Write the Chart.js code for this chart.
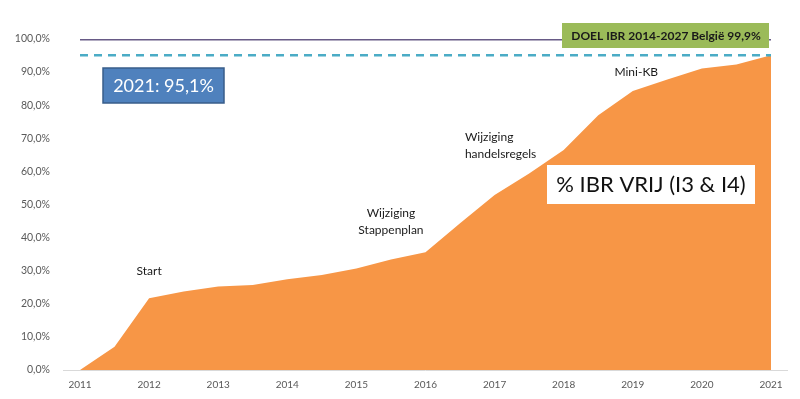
<!DOCTYPE html>
<html>
<head>
<meta charset="utf-8">
<script src="https://cdn.jsdelivr.net/npm/chart.js@4.4.0/dist/chart.umd.min.js"></script>
<style>
html, body { margin: 0; padding: 0; background: #fff; }
#wrap { width: 800px; height: 399px; }
</style>
</head>
<body>
<div id="wrap"><canvas id="grafiek"></canvas></div>
<script>
// halfjaarlijkse meetpunten
const periodes = [2011, 2011.5, 2012, 2012.5, 2013, 2013.5, 2014, 2014.5, 2015, 2015.5, 2016,
                  2016.5, 2017, 2017.5, 2018, 2018.5, 2019, 2019.5, 2020, 2020.5, 2021];
const ibrVrij = [0, 7.0, 21.7, 23.7, 25.2, 25.7, 27.4, 28.7, 30.7, 33.4, 35.6,
                 44.3, 52.9, 59.4, 66.5, 77.0, 84.3, 87.8, 91.1, 92.3, 95.1];
const jaren = [2011, 2012, 2013, 2014, 2015, 2016, 2017, 2018, 2019, 2020, 2021];
const yTicks = [0, 10, 20, 30, 40, 50, 60, 70, 80, 90, 100];
const doel = 99.9;
const huidig = 95.1;

// tekstjes bij de curve: [tekst regels, jaar, waarde, uitlijning]
const notities = [
    [['Start'], 2012, 29.9, 'center'],
    [['Wijziging', 'Stappenplan'], 2015.5, 47.4, 'center'],
    [['Wijziging', 'handelsregels'], 2016.57, 70.4, 'left'],
    [['Mini-KB'], 2019.05, 90.0, 'center']
];

const tekstPlugin = {
    id: 'tekstPlugin',
    beforeDraw(chart) {
        // x-as lijn iets breder dan het plotgebied
        const c = chart.ctx, a = chart.chartArea, y0 = chart.scales.y.getPixelForValue(0);
        c.save();
        c.strokeStyle = '#d9d9d9';
        c.lineWidth = 1;
        c.beginPath();
        c.moveTo(a.left - 17, y0 + 0.5);
        c.lineTo(a.right + 17, y0 + 0.5);
        c.stroke();
        c.restore();
    },
    afterDatasetsDraw(chart) {
        const c = chart.ctx, a = chart.chartArea;
        const sx = chart.scales.x, sy = chart.scales.y;
        c.save();

        // notities
        c.fillStyle = '#1a1a1a';
        c.font = '12px Lato';
        c.textBaseline = 'middle';
        notities.forEach(function (n) {
            c.textAlign = n[3];
            const px = sx.getPixelForValue(n[1]);
            const py = sy.getPixelForValue(n[2]);
            n[0].forEach(function (r, i) { c.fillText(r, px, py + i * 17); });
        });

        // groene doel-box
        c.fillStyle = '#9bbb59';
        c.fillRect(a.right - 209, 23, 207, 25);
        c.fillStyle = '#1a1a1a';
        c.font = 'bold 12px Lato';
        c.textAlign = 'center';
        c.fillText('DOEL IBR 2014-2027 België ' + String(doel).replace('.', ',') + '%', a.right - 105, 36);

        // blauwe box
        c.fillStyle = '#4f81bd';
        c.fillRect(a.left + 23, 68, 121, 35);
        c.strokeStyle = '#385d8a';
        c.lineWidth = 1.5;
        c.strokeRect(a.left + 23, 68, 121, 35);
        c.fillStyle = '#ffffff';
        c.font = '18px Lato';
        c.fillText('2021: ' + String(huidig).replace('.', ',') + '%', a.left + 83.5, 86);

        // witte titel-box
        c.fillStyle = '#ffffff';
        c.fillRect(547, 165, 208, 39);
        c.fillStyle = '#111111';
        c.font = '22px Lato';
        c.fillText('% IBR VRIJ (I3 & I4)', 651, 185);

        c.restore();
    }
};

const ctx = document.getElementById('grafiek').getContext('2d');

var chart = new Chart(ctx, {
    type: 'line',
    data: {
        datasets: [{
            label: 'Doel',
            data: [{ x: periodes[0], y: doel }, { x: periodes[periodes.length - 1], y: doel }],
            borderColor: '#675a86',
            borderWidth: 2.5,
            pointRadius: 0,
            fill: false
        },
        {
            label: '2021',
            data: [{ x: periodes[0], y: huidig }, { x: periodes[periodes.length - 1], y: huidig }],
            borderColor: '#4bacc6',
            borderWidth: 2.5,
            borderDash: [8, 6],
            pointRadius: 0,
            fill: false
        },
        {
            label: '% IBR VRIJ',
            data: periodes.map(function (p, i) { return { x: p, y: ibrVrij[i] }; }),
            backgroundColor: '#f79646',
            borderWidth: 0,
            pointRadius: 0,
            tension: 0,
            fill: 'origin'
        }]
    },
    options: {
        animation: false,
        responsive: true,
        maintainAspectRatio: false,
        layout: { padding: { top: 39, right: 29, left: 0, bottom: 0 } },
        scales: {
            x: {
                type: 'linear',
                min: jaren[0],
                max: jaren[jaren.length - 1],
                afterFit: function (s) { s.height = 29; },
                afterBuildTicks: function (s) { s.ticks = jaren.map(function (j) { return { value: j }; }); },
                grid: { display: false, drawTicks: false },
                border: { display: false },
                ticks: {
                    padding: 9,
                    color: '#595959',
                    font: { family: 'Lato', size: 10 },
                    maxRotation: 0,
                    callback: function (v) { return String(v); }
                }
            },
            y: {
                min: 0,
                max: 100,
                afterFit: function (s) {
                    s.width = 80;
                    // tick-padding niet als boven/onder-marge meetellen
                    s.paddingTop = 7;
                    s.paddingBottom = 7;
                },
                afterBuildTicks: function (s) { s.ticks = yTicks.map(function (t) { return { value: t }; }); },
                grid: { display: false, drawTicks: false },
                border: { display: false },
                ticks: {
                    padding: 30,
                    color: '#595959',
                    font: { family: 'Lato', size: 10.5 },
                    callback: function (v) { return v.toFixed(1).replace('.', ',') + '%'; }
                }
            }
        },
        plugins: {
            legend: { display: false },
            tooltip: { enabled: false }
        }
    },
    plugins: [tekstPlugin]
});
</script>
</body>
</html>
